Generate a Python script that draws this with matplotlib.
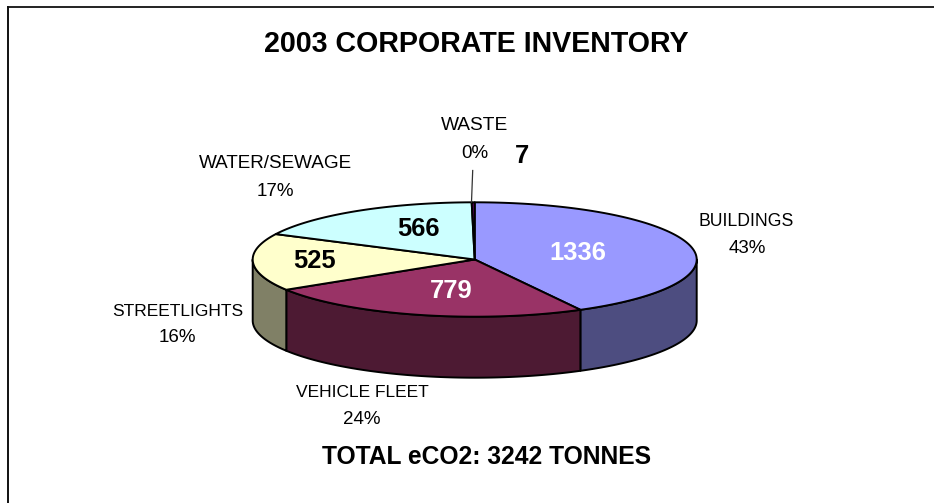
import numpy as np
import matplotlib
matplotlib.use("Agg")
import matplotlib.pyplot as plt
from matplotlib.patches import Polygon
from matplotlib.lines import Line2D

plt.rcParams['font.family'] = ['Liberation Sans', 'DejaVu Sans']

categories = ["BUILDINGS", "VEHICLE FLEET", "STREETLIGHTS", "WATER/SEWAGE", "WASTE"]
slice_values = [1365, 779, 525, 566, 7]
value_labels = ["1336", "779", "525", "566", "7"]
percent_labels = ["43%", "24%", "16%", "17%", "0%"]
top_colors = ["#9999FF", "#993366", "#FFFFCC", "#CCFFFF", "#660066"]
side_colors = ["#4D4D80", "#4D1A33", "#808066", "#668080", "#330033"]
title_text = "2003 CORPORATE INVENTORY"
footer_text = "TOTAL eCO2: 3242 TONNES"

W, H = 934, 503
fig = plt.figure(figsize=(W / 100, H / 100), dpi=100, facecolor="white")

def px(x, y):
    return x / W, 1 - y / H

# pie axes: unit circle of the top face maps on to the projected ellipse
cx, cy, rx, ry, depth_px = 474.7, 259.5, 222.0, 57.2, 61.0
ax = fig.add_axes([(cx - rx) / W, 1 - (cy + ry) / H, 2 * rx / W, 2 * ry / H])
ax.set_xlim(-1, 1)
ax.set_ylim(-1, 1)
ax.axis("off")
depth = depth_px / ry

vals = np.array(slice_values, dtype=float)
edges = np.concatenate([[0], np.cumsum(vals) / vals.sum() * 2 * np.pi])

def arc(a0, a1, n=120):
    t = np.linspace(a0, a1, n)
    return np.sin(t), np.cos(t)

# side walls on the visible front half
for i in range(len(vals)):
    a0, a1 = max(edges[i], np.pi / 2), min(edges[i + 1], 3 * np.pi / 2)
    if a1 <= a0:
        continue
    x, y = arc(a0, a1)
    pts = np.r_[np.c_[x, y], np.c_[x[::-1], y[::-1] - depth]]
    ax.add_patch(Polygon(pts, closed=True, fc=side_colors[i], ec="black", lw=1.4,
                         clip_on=False, joinstyle="round"))

# top faces
for i in range(len(vals)):
    x, y = arc(edges[i], edges[i + 1])
    pts = np.r_[[[0, 0]], np.c_[x, y]]
    ax.add_patch(Polygon(pts, closed=True, fc=top_colors[i], ec="black", lw=1.4,
                         clip_on=False, joinstyle="round"))

# leader line for the smallest slice
fig.add_artist(Line2D([px(472.7, 170.5)[0], px(471.5, 202)[0]],
                      [px(472.7, 170.5)[1], px(471.5, 202)[1]], color="#333333", lw=0.9))

# chart frame: only top and left edges visible
fig.add_artist(Line2D([px(7.5, 0)[0], 1], [px(0, 6.8)[1]] * 2, color="#222222", lw=1.4))
fig.add_artist(Line2D([px(7.5, 0)[0]] * 2, [px(0, 6.8)[1], 0], color="#111111", lw=1.4))

def t(x, y, s, **kw):
    fig.text(*px(x, y), s, ha="center", va="center", **kw)

t(476.5, 43.5, title_text, fontsize=20.6, fontweight="bold", color="black")
t(486.5, 457, footer_text, fontsize=17.7, fontweight="bold", color="black")

cat_pos = [(746.5, 221.5), (362, 392.5), (178, 311), (275, 164), (475, 126)]
pct_pos = [(747, 248.5), (362, 419), (177, 338), (275, 191), (475, 154)]
cat_sizes = [12.7, 12.5, 12.5, 13.6, 13.8]
for i in range(len(categories)):
    t(*cat_pos[i], categories[i], fontsize=cat_sizes[i], color="black")
    t(*pct_pos[i], percent_labels[i], fontsize=13.5, color="black")

val_pos = [(577.5, 252.5), (451.5, 290.5), (314.5, 260.5), (418.5, 228.5), (522.5, 156.5)]
val_cols = ["white", "white", "black", "black", "black"]
for i in range(len(value_labels)):
    t(*val_pos[i], value_labels[i], fontsize=18.4, fontweight="bold", color=val_cols[i])

fig.savefig("out.png", dpi=100, facecolor="white")
